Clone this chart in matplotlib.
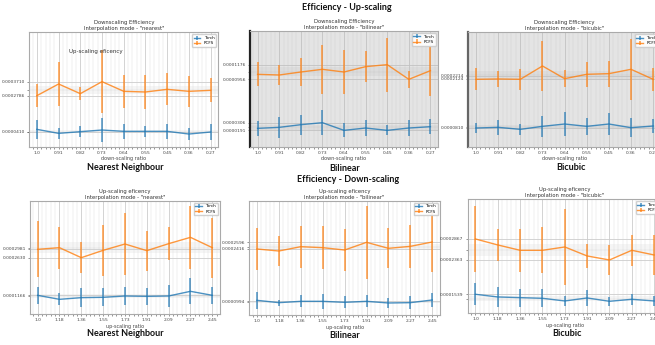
import numpy as np
import matplotlib.pyplot as plt
from matplotlib.ticker import MultipleLocator, FixedLocator

plt.rcParams['font.family'] = ['DejaVu Sans']

# scaling ratios on the x axis
down_ratio = ['1.0', '0.91', '0.82', '0.73', '0.64', '0.55', '0.45', '0.36', '0.27']
up_ratio = ['1.0', '1.18', '1.36', '1.55', '1.73', '1.91', '2.09', '2.27', '2.45']

# top row: down-scaling runs (seconds per image), mean and std
down_nearest_torch = [0.0000564, 0.0000300, 0.0000410, 0.0000520, 0.0000432, 0.0000432, 0.0000432, 0.0000256, 0.0000388]
down_nearest_torch_err = [0.0000616, 0.0000374, 0.0000352, 0.0000770, 0.0000484, 0.0000374, 0.0000484, 0.0000374, 0.0000506]
down_nearest_pcfs = [0.0002786, 0.0003556, 0.0002918, 0.0003710, 0.0003072, 0.0003028, 0.0003204, 0.0003072, 0.0003138]
down_nearest_pcfs_err = [0.0000770, 0.0001474, 0.0000440, 0.0002090, 0.0001078, 0.0001122, 0.0001056, 0.0001012, 0.0000792]

down_bilinear_torch = [0.0000221, 0.0000236, 0.0000276, 0.0000306, 0.0000191, 0.0000226, 0.0000191, 0.0000226, 0.0000246]
down_bilinear_torch_err = [0.0000110, 0.0000160, 0.0000150, 0.0000185, 0.0000105, 0.0000125, 0.0000075, 0.0000120, 0.0000115]
down_bilinear_pcfs = [0.0001031, 0.0001021, 0.0001066, 0.0001106, 0.0001066, 0.0001146, 0.0001176, 0.0000956, 0.0001086]
down_bilinear_pcfs_err = [0.0000180, 0.0000145, 0.0000210, 0.0000365, 0.0000335, 0.0000230, 0.0000405, 0.0000130, 0.0000375]

down_bicubic_torch = [0.0000801, 0.0000819, 0.0000765, 0.0000846, 0.0000909, 0.0000846, 0.0000909, 0.0000810, 0.0000855]
down_bicubic_torch_err = [0.0000135, 0.0000207, 0.0000153, 0.0000288, 0.0000333, 0.0000225, 0.0000288, 0.0000252, 0.0000180]
down_bicubic_pcfs = [0.0002115, 0.0002124, 0.0002115, 0.0002475, 0.0002133, 0.0002250, 0.0002268, 0.0002385, 0.0002115]
down_bicubic_pcfs_err = [0.0000297, 0.0000225, 0.0000288, 0.0000666, 0.0000234, 0.0000342, 0.0000351, 0.0000819, 0.0000315]

# bottom row: up-scaling runs
up_nearest_torch = [0.0001161, 0.0001005, 0.0001070, 0.0001083, 0.0001135, 0.0001122, 0.0001135, 0.0001317, 0.0001161]
up_nearest_torch_err = [0.0000338, 0.0000234, 0.0000364, 0.0000351, 0.0000364, 0.0000338, 0.0000429, 0.0000507, 0.0000325]
up_nearest_pcfs = [0.0002955, 0.0003020, 0.0002630, 0.0002916, 0.0003163, 0.0002903, 0.0003176, 0.0003423, 0.0003020]
up_nearest_pcfs_err = [0.0001092, 0.0000819, 0.0000611, 0.0000988, 0.0001196, 0.0000780, 0.0000637, 0.0001222, 0.0001170]

up_bilinear_torch = [0.0001021, 0.0000958, 0.0000994, 0.0000994, 0.0000967, 0.0000994, 0.0000949, 0.0000958, 0.0001030]
up_bilinear_torch_err = [0.0000225, 0.0000081, 0.0000162, 0.0000207, 0.0000162, 0.0000162, 0.0000144, 0.0000171, 0.0000180]
up_bilinear_pcfs = [0.0002407, 0.0002353, 0.0002470, 0.0002443, 0.0002380, 0.0002587, 0.0002425, 0.0002479, 0.0002596]
up_bilinear_pcfs_err = [0.0000558, 0.0000396, 0.0000567, 0.0000585, 0.0000576, 0.0000981, 0.0000540, 0.0000576, 0.0000810]

up_bicubic_torch = [0.0001539, 0.0001475, 0.0001459, 0.0001443, 0.0001379, 0.0001451, 0.0001371, 0.0001419, 0.0001379]
up_bicubic_torch_err = [0.0000264, 0.0000232, 0.0000216, 0.0000216, 0.0000120, 0.0000192, 0.0000112, 0.0000136, 0.0000120]
up_bicubic_pcfs = [0.0002867, 0.0002723, 0.0002595, 0.0002595, 0.0002675, 0.0002459, 0.0002363, 0.0002595, 0.0002483]
up_bicubic_pcfs_err = [0.0000800, 0.0000376, 0.0000520, 0.0000552, 0.0000904, 0.0000288, 0.0000352, 0.0000368, 0.0000488]

# labelled y ticks of each panel
down_nearest_ticks = [0.0003710, 0.0002786, 0.0000410]
down_bilinear_ticks = [0.0001176, 0.0000956, 0.0000306, 0.0000191]
down_bicubic_ticks = [0.0002214, 0.0002124, 0.0000810]
up_nearest_ticks = [0.0002981, 0.0002630, 0.0001166]
up_bilinear_ticks = [0.0002596, 0.0002416, 0.0000994]
up_bicubic_ticks = [0.0002867, 0.0002363, 0.0001539]

BLUE = '#1f77b4'
ORANGE = '#ff7f0e'


def draw_panel(rect, labels, torch, torch_err, pcfs, pcfs_err, ticks, ylim,
               title, xlabel, face='white', left_spine=None):
    ax = fig.add_axes(rect)
    ax.set_facecolor(face)
    x = np.arange(len(labels))
    for vals, err, c, name in [(torch, torch_err, BLUE, 'Torch'), (pcfs, pcfs_err, ORANGE, 'PCFS')]:
        vals = np.array(vals)
        m, s = vals.mean(), vals.std()
        ax.axhspan(m - s, m + s, color='#777777', alpha=0.07, lw=0, zorder=0)
        ax.errorbar(x, vals, yerr=err, color=c, alpha=0.8, lw=1.0, elinewidth=1.1,
                    label=name, zorder=3)
    means = [np.mean(torch), np.mean(pcfs)]
    ax.yaxis.set_major_locator(FixedLocator(ticks))
    ax.set_yticklabels(['%.7f' % t for t in ticks])
    ax.yaxis.set_minor_locator(FixedLocator(means))
    ax.set_xticks(x)
    ax.set_xticklabels(labels)
    ax.xaxis.set_minor_locator(MultipleLocator(0.2))
    ax.set_xlim(-0.35, 8.35)
    ax.set_ylim(*ylim)
    gc = '#cccccc' if face == 'white' else '#c2c2c2'
    ax.grid(True, which='major', color=gc, lw=0.6, zorder=1)
    ax.grid(True, which='minor', color=gc, lw=0.3, alpha=0.7, zorder=1)
    ax.tick_params(which='both', labelsize=3.2, length=1.5, width=0.4, pad=1.5,
                   colors='#444444')
    ax.set_title(title, fontsize=3.8, pad=1.5, color='#333333')
    ax.set_xlabel(xlabel, fontsize=3.5, labelpad=1, color='#444444')
    for sp in ax.spines.values():
        sp.set_color('#aaaaaa')
        sp.set_linewidth(0.8)
    if left_spine is not None:
        ax.spines['left'].set_color(left_spine)
        ax.spines['left'].set_linewidth(1.6)
    ax.legend(loc='upper right', fontsize=3, handlelength=1.6, borderpad=0.4,
              labelspacing=0.3, framealpha=0.9, edgecolor='#cccccc')
    return ax


fig = plt.figure(figsize=(6.55, 3.45), dpi=100)

ax1 = draw_panel([0.0447, 0.5748, 0.2885, 0.3316], down_ratio,
                 down_nearest_torch, down_nearest_torch_err, down_nearest_pcfs, down_nearest_pcfs_err,
                 down_nearest_ticks, (-0.000058, 0.0006966),
                 'Downscaling Efficiency\nInterpolation mode - "nearest"', 'down-scaling ratio')
ax1.text(0.35, 0.83, 'Up-scaling eficency', transform=ax1.transAxes, fontsize=4,
         ha='center', va='center', color='#333333')

draw_panel([0.3817, 0.5748, 0.287, 0.3354], down_ratio,
           down_bilinear_torch, down_bilinear_torch_err, down_bilinear_pcfs, down_bilinear_pcfs_err,
           down_bilinear_ticks, (-0.0000054, 0.0001681),
           'Downscaling Efficiency\nInterpolation mode - "bilinear"', 'down-scaling ratio',
           face='#e4e4e4', left_spine='#222222')

draw_panel([0.715, 0.5748, 0.294, 0.3316], down_ratio,
           down_bicubic_torch, down_bicubic_torch_err, down_bicubic_pcfs, down_bicubic_pcfs_err,
           down_bicubic_ticks, (0.0000297, 0.0003384),
           'Downscaling Efficiency\nInterpolation mode - "bicubic"', 'down-scaling ratio',
           face='#e4e4e4', left_spine='#666666')

draw_panel([0.0458, 0.0899, 0.290, 0.3284], up_ratio,
           up_nearest_torch, up_nearest_torch_err, up_nearest_pcfs, up_nearest_pcfs_err,
           up_nearest_ticks, (0.0000433, 0.0004853),
           'Up-scaling eficency\nInterpolation mode - "nearest"', 'up-scaling ratio')

draw_panel([0.3806, 0.0870, 0.2911, 0.3313], up_ratio,
           up_bilinear_torch, up_bilinear_torch_err, up_bilinear_pcfs, up_bilinear_pcfs_err,
           up_bilinear_ticks, (0.0000625, 0.0003712),
           'Up-scaling eficency\nInterpolation mode - "bilinear"', 'up-scaling ratio')

draw_panel([0.714, 0.0919, 0.2966, 0.3304], up_ratio,
           up_bicubic_torch, up_bicubic_torch_err, up_bicubic_pcfs, up_bicubic_pcfs_err,
           up_bicubic_ticks, (0.0001083, 0.0003819),
           'Up-scaling eficency\nInterpolation mode - "bicubic"', 'up-scaling ratio')

head = dict(fontsize=6.5, fontweight='bold', family=['Lato', 'DejaVu Sans'],
            ha='center', va='center', color='#111111')
fig.text(347 / 655, 1 - 8 / 345, 'Efficiency - Up-scaling', **head)
fig.text(348 / 655, 1 - 180 / 345, 'Efficiency - Down-scaling', **head)
for xc, yc, name in [(125, 167, 'Nearest Neighbour'), (345, 168, 'Bilinear'), (571, 167, 'Bicubic'),
                     (125, 333, 'Nearest Neighbour'), (345, 335, 'Bilinear'), (567, 334, 'Bicubic')]:
    fig.text(xc / 655, 1 - yc / 345, name, **head)

plt.savefig('out.png', dpi=100)
